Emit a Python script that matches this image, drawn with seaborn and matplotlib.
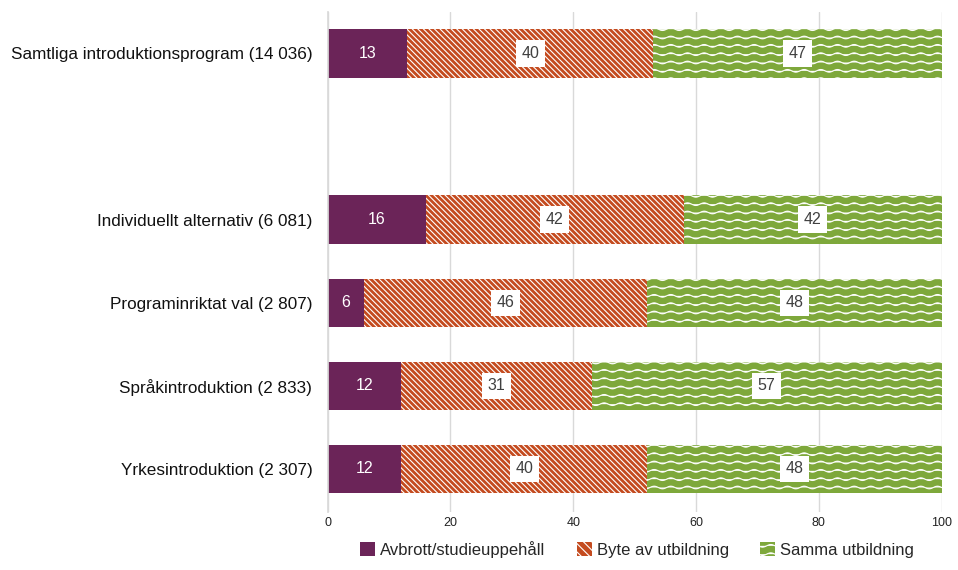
import numpy as np
import pandas as pd
import seaborn as sns
import matplotlib.pyplot as plt
import matplotlib.hatch as mhatch
from matplotlib.path import Path
from matplotlib.patches import Patch

categories = ["Samtliga introduktionsprogram (14 036)",
              "Individuellt alternativ (6 081)",
              "Programinriktat val (2 807)",
              "Språkintroduktion (2 833)",
              "Yrkesintroduktion (2 307)"]
avbrott = [13, 16, 6, 12, 12]
byte = [40, 42, 46, 31, 40]
samma = [47, 42, 48, 57, 48]
series_names = ["Avbrott/studieuppehåll", "Byte av utbildning", "Samma utbildning"]
x_ticks = [0, 20, 40, 60, 80, 100]

purple = "#6B2458"
orange = "#C44B1F"
green = "#7EA83B"


# wavy line hatch used for '-' (horizontal) so the green bars get waves
class WaveHatch(mhatch.HatchPatternBase):
    n_pts = 73
    periods = 6

    def __init__(self, hatch, density):
        self.num_lines = int((hatch.count('-') + hatch.count('+')) * density)
        self.num_vertices = self.num_lines * self.n_pts

    def set_vertices_and_codes(self, vertices, codes):
        steps, stepsize = np.linspace(0.0, 1.0, self.num_lines, False, retstep=True)
        steps += stepsize / 2.
        xs = np.linspace(0.0, 1.0, self.n_pts)
        wave = np.sin(xs * 2 * np.pi * self.periods) * stepsize * 0.16
        k = 0
        for s in steps:
            vertices[k:k + self.n_pts, 0] = xs
            vertices[k:k + self.n_pts, 1] = s + wave
            codes[k] = Path.MOVETO
            codes[k + 1:k + self.n_pts] = Path.LINETO
            k += self.n_pts


mhatch._hatch_types[0] = WaveHatch

order = [categories[0], " "] + categories[1:]
df = pd.DataFrame({
    "kategori": categories,
    "a": avbrott,
    "ab": np.array(avbrott) + np.array(byte),
    "abs": np.array(avbrott) + np.array(byte) + np.array(samma),
})

sns.set_theme(style="white")
plt.rcParams['font.family'] = ['Liberation Sans', 'DejaVu Sans']
plt.rcParams['hatch.linewidth'] = 0.8

fig = plt.figure(figsize=(9.58, 5.70), dpi=100)
ax = fig.add_axes([0.342, 0.102, 0.641, 0.877])

sns.barplot(data=df, x="abs", y="kategori", order=order, orient="h", color=green,
            width=0.58, hatch="--", edgecolor="white", linewidth=0, saturation=1, ax=ax)
sns.barplot(data=df, x="ab", y="kategori", order=order, orient="h", color=orange,
            width=0.58, hatch="\\\\\\\\\\\\", edgecolor="white", linewidth=0, saturation=1, ax=ax)
sns.barplot(data=df, x="a", y="kategori", order=order, orient="h", color=purple,
            width=0.58, edgecolor="white", linewidth=0, saturation=1, ax=ax)

pos = [0, 2, 3, 4, 5]
for i, p in enumerate(pos):
    a, b, c = avbrott[i], byte[i], samma[i]
    ax.text(a / 2, p, str(a), ha="center", va="center", color="white", fontsize=11.5)
    box = dict(boxstyle="square,pad=0.35", fc="white", ec="none")
    ax.text(a + b / 2, p, str(b), ha="center", va="center", color="#404040", fontsize=11.5, bbox=box)
    ax.text(a + b + c / 2, p, str(c), ha="center", va="center", color="#404040", fontsize=11.5, bbox=box)

ax.set_xlim(0, 100)
ax.set_ylim(5.52, -0.5)
ax.set_xticks(x_ticks)
ax.set_xticklabels([str(t) for t in x_ticks], fontsize=9, color="#222222")
ax.tick_params(axis="y", labelsize=12.3, colors="#111111", length=0, pad=11)
ax.tick_params(axis="x", length=0, pad=4)
ax.set_xlabel("")
ax.set_ylabel("")
ax.grid(axis="x", color="#D9D9D9", linewidth=1)
ax.set_axisbelow(True)
for side in ["top", "right", "bottom"]:
    ax.spines[side].set_visible(False)
ax.spines["left"].set_color("#D9D9D9")

handles = [Patch(facecolor=purple, edgecolor="white", linewidth=0),
           Patch(facecolor=orange, edgecolor="white", linewidth=0, hatch="\\\\\\\\"),
           Patch(facecolor=green, edgecolor="white", linewidth=0, hatch="--")]
fig.legend(handles, series_names, loc="lower center", bbox_to_anchor=(0.665, -0.005), ncol=3,
           frameon=False, fontsize=12, handlelength=0.9, handleheight=0.9,
           handletextpad=0.3, columnspacing=1.9)

fig.savefig("out.png", dpi=100)
